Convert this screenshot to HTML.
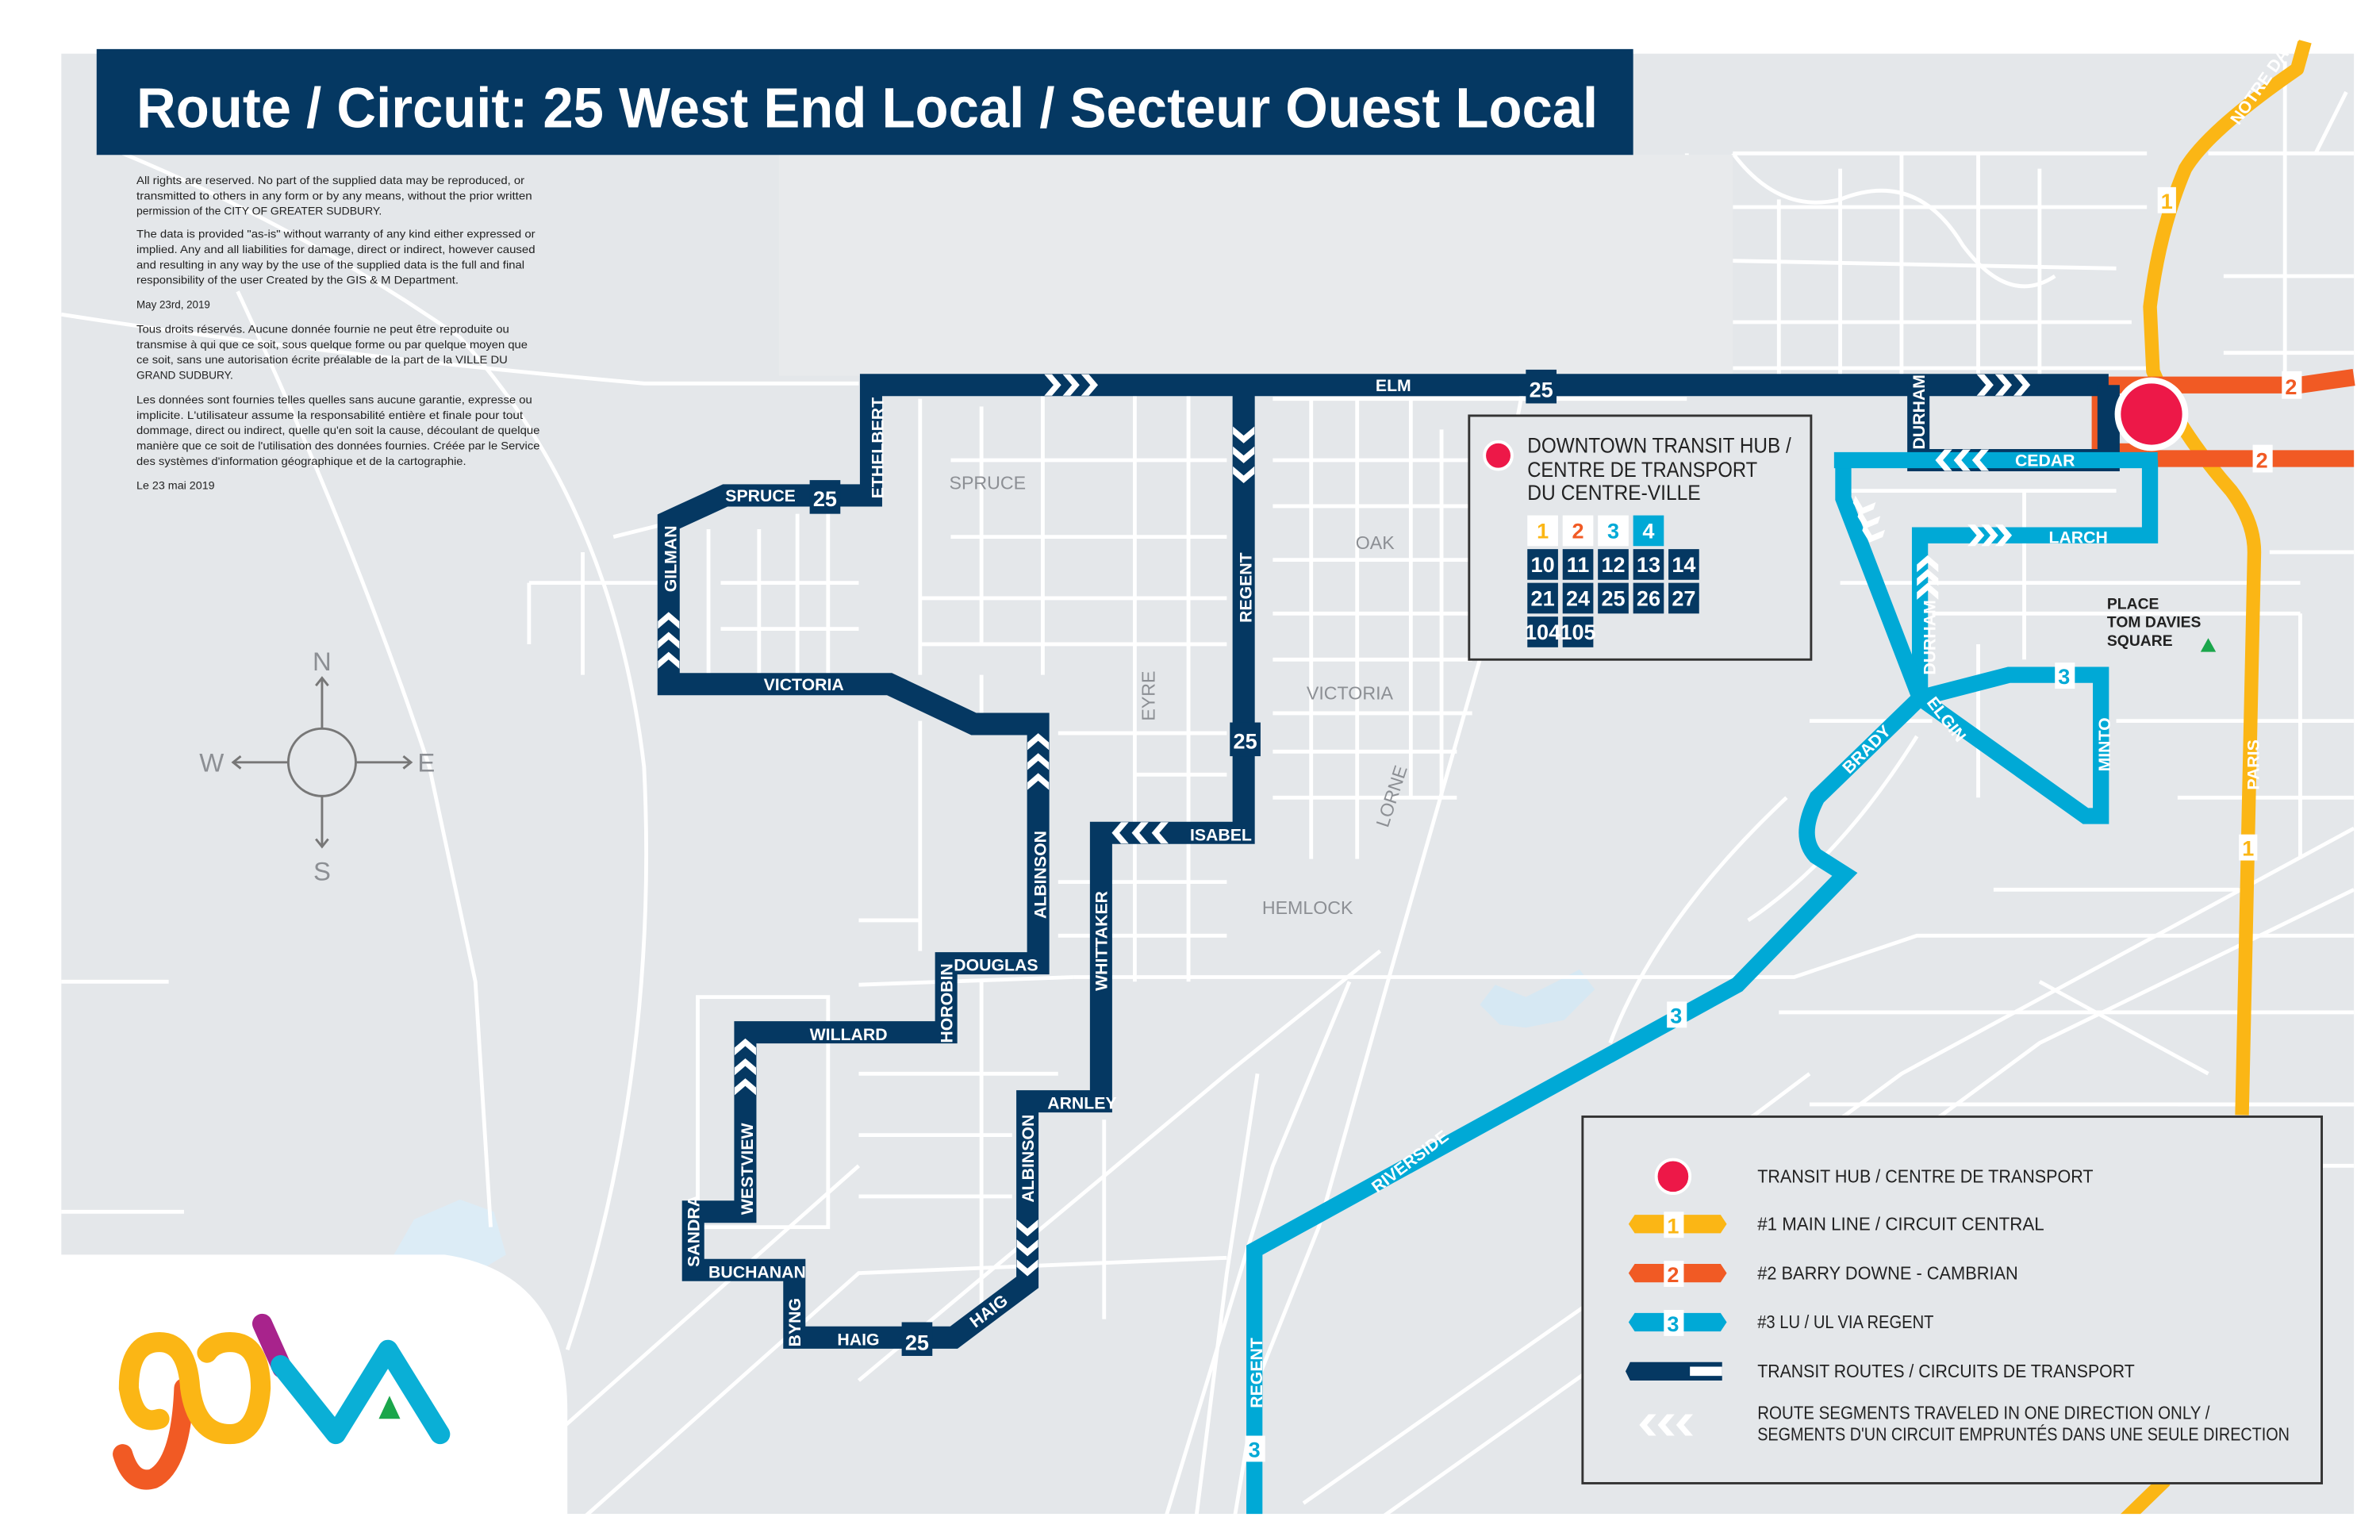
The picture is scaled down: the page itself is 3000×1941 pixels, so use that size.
<!DOCTYPE html>
<html><head><meta charset="utf-8"><style>
html,body{margin:0;padding:0;background:#fff;}
svg{display:block;}
.rl{font-family:"Liberation Sans Narrow","Liberation Sans",sans-serif;font-weight:bold;fill:#fff;font-size:11px;}
.gl{font-family:"Liberation Sans Narrow","Liberation Sans",sans-serif;fill:#8c8f94;font-size:12px;}
.dk{font-family:"Liberation Sans Narrow","Liberation Sans",sans-serif;fill:#222;}
.num{font-family:"Liberation Sans Narrow","Liberation Sans",sans-serif;font-weight:bold;font-size:14px;text-anchor:middle;}
</style></head><body>
<svg width="3000" height="1941" viewBox="0 0 1552 1004" preserveAspectRatio="none" xmlns="http://www.w3.org/2000/svg">
<defs>
<polygon id="ch" points="-5,-7 0,-7 6,0 0,7 -5,7 1,0" fill="#fff"/>
</defs>
<rect width="1552" height="1004" fill="#fff"/>
<rect x="40" y="35" width="1495" height="952" fill="#e4e7ea"/>
<path d="M250,830 L270,795 L300,782 L322,790 L330,818 L310,830 Z" fill="#dcecf6"/>
<path d="M965,655 L975,642 L995,650 L1015,640 L1030,632 L1040,645 L1020,665 L995,670 L978,668 Z" fill="#d6e8f3"/>
<g stroke="#fff" stroke-width="2.5" fill="none">
<path d="M40,205 Q200,230 420,250 L560,250"/>
<path d="M80,100 Q200,150 300,220 Q400,330 420,500 Q430,700 370,880"/>
<path d="M155,190 Q230,350 280,500 L310,640 L320,800"/>
<path d="M345,380 L430,380 M345,380 L345,420 M380,360 L380,440 M400,350 L440,340"/>
<path d="M462,345 L462,450 M495,345 L495,440 M520,335 L520,450 M540,335 L540,440 M470,380 L560,380 M470,410 L560,410"/>
<path d="M600,260 L600,440 M640,265 L640,420 M680,255 L680,440 M620,300 L800,300 M620,350 L800,350 M600,390 L800,390 M600,420 L800,420"/>
<path d="M740,255 L740,640 M775,255 L775,640 M690,478 L800,478 M740,505 L800,505 M690,575 L800,575 M690,610 L800,610"/>
<path d="M830,260 L1100,260 M830,300 L960,300 M830,330 L960,330 M830,365 L960,365 M830,400 L960,400 M830,430 L960,430 M830,465 L960,465 M830,490 L950,490 M830,520 L950,520"/>
<path d="M855,260 L855,560 M885,260 L885,560 M920,260 L920,520 M940,280 L940,520"/>
<path d="M965,430 L905,640 L860,800 L820,900 L805,990"/>
<path d="M1020,110 L960,430"/>
<path d="M700,637 L1170,637 L1250,610 L1535,610"/>
<path d="M560,642 L700,637 M560,700 L690,700 M560,740 L660,740 M560,780 L660,780 M560,600 L600,600"/>
<path d="M640,440 L640,470 M600,470 L600,620 M640,640 L640,860 M720,730 L720,860"/>
<path d="M455,650 L455,800 L540,800 L540,650 Z"/>
<path d="M40,790 L120,790 M40,640 L110,640"/>
<path d="M380,990 L560,830 L800,820 M300,990 L560,760 M560,900 L800,700 L900,620"/>
<path d="M820,700 L800,830 L780,990 M760,990 L830,760 L880,640"/>
<path d="M850,980 L1050,840 L1240,700 L1535,540 M900,990 L1140,820 L1330,680 L1535,580"/>
<path d="M1100,760 L1180,700 M1050,900 L1120,960 M1160,660 L1535,660 M1180,720 L1535,720 M1200,760 L1535,760"/>
<path d="M1130,100 L1400,100 M1130,135 L1400,135 M1130,170 L1380,175 M1130,210 L1390,210 M1130,240 L1400,240"/>
<path d="M1160,130 L1160,250 M1200,110 L1200,250 M1240,100 L1240,250 M1290,100 L1290,250 M1330,110 L1330,250"/>
<path d="M1130,100 Q1160,140 1200,130 Q1250,110 1280,160 Q1310,200 1340,180"/>
<path d="M1440,100 L1535,100 M1450,180 L1535,180 M1450,230 L1535,230 M1490,40 L1490,250 M1510,100 L1530,60"/>
<path d="M1200,320 L1380,320 M1200,380 L1500,380 M1260,400 L1500,400 M1290,420 L1290,520 M1320,320 L1320,430 M1180,470 L1260,470"/>
<path d="M1380,470 L1535,470 M1420,520 L1535,520 M1480,360 L1535,360 M1500,400 L1500,560"/>
<path d="M1165,520 Q1080,600 1050,680 M1250,480 Q1200,560 1140,600"/>
<path d="M1420,720 L1535,720 M1300,580 L1460,580 M1330,640 L1440,700"/>
<path d="M1100,250 L1100,100 M1060,240 L1060,110"/>
<path d="M40,870 L80,870"/>
</g>
<rect x="508" y="101" width="622" height="144" fill="#e8eaec"/>
<rect x="63" y="32" width="1002" height="69" fill="#053862"/>
<text x="89" y="83" font-family="Liberation Sans Narrow, Liberation Sans, sans-serif" font-weight="bold" font-size="37" fill="#fff" textLength="953" lengthAdjust="spacingAndGlyphs">Route / Circuit: 25 West End Local / Secteur Ouest Local</text>
<g class="dk" font-size="7">
<text x="89" y="120" textLength="253" lengthAdjust="spacingAndGlyphs">All rights are reserved. No part of the supplied data may be reproduced, or</text>
<text x="89" y="130" textLength="258" lengthAdjust="spacingAndGlyphs">transmitted to others in any form or by any means, without the prior written</text>
<text x="89" y="140" textLength="160" lengthAdjust="spacingAndGlyphs">permission of the CITY OF GREATER SUDBURY.</text>
<text x="89" y="155" textLength="260" lengthAdjust="spacingAndGlyphs">The data is provided "as-is" without warranty of any kind either expressed or</text>
<text x="89" y="165" textLength="260" lengthAdjust="spacingAndGlyphs">implied. Any and all liabilities for damage, direct or indirect, however caused</text>
<text x="89" y="175" textLength="253" lengthAdjust="spacingAndGlyphs">and resulting in any way by the use of the supplied data is the full and final</text>
<text x="89" y="185" textLength="210" lengthAdjust="spacingAndGlyphs">responsibility of the user Created by the GIS &amp; M Department.</text>
<text x="89" y="201" textLength="48" lengthAdjust="spacingAndGlyphs">May 23rd, 2019</text>
<text x="89" y="217" textLength="243" lengthAdjust="spacingAndGlyphs">Tous droits réservés. Aucune donnée fournie ne peut être reproduite ou</text>
<text x="89" y="227" textLength="255" lengthAdjust="spacingAndGlyphs">transmise à qui que ce soit, sous quelque forme ou par quelque moyen que</text>
<text x="89" y="237" textLength="242" lengthAdjust="spacingAndGlyphs">ce soit, sans une autorisation écrite préalable de la part de la VILLE DU</text>
<text x="89" y="247" textLength="63" lengthAdjust="spacingAndGlyphs">GRAND SUDBURY.</text>
<text x="89" y="263" textLength="258" lengthAdjust="spacingAndGlyphs">Les données sont fournies telles quelles sans aucune garantie, expresse ou</text>
<text x="89" y="273" textLength="252" lengthAdjust="spacingAndGlyphs">implicite. L'utilisateur assume la responsabilité entière et finale pour tout</text>
<text x="89" y="283" textLength="263" lengthAdjust="spacingAndGlyphs">dommage, direct ou indirect, quelle qu'en soit la cause, découlant de quelque</text>
<text x="89" y="293" textLength="263" lengthAdjust="spacingAndGlyphs">manière que ce soit de l'utilisation des données fournies. Créée par le Service</text>
<text x="89" y="303" textLength="215" lengthAdjust="spacingAndGlyphs">des systèmes d'information géographique et de la cartographie.</text>
<text x="89" y="319" textLength="51" lengthAdjust="spacingAndGlyphs">Le 23 mai 2019</text>
</g>
<text class="gl" x="619" y="319">SPRUCE</text>
<text class="gl" x="884" y="358">OAK</text>
<text class="gl" x="852" y="456">VICTORIA</text>
<text class="gl" x="823" y="596">HEMLOCK</text>
<text class="gl" transform="translate(753,470) rotate(-90)">EYRE</text>
<text class="gl" transform="translate(905,540) rotate(-72)">LORNE</text>
<g stroke="#777" stroke-width="1.5" fill="none">
<circle cx="210" cy="497" r="22"/>
<path d="M210,475 L210,442 M206,447 L210,442 L214,447"/>
<path d="M210,519 L210,552 M206,547 L210,552 L214,547"/>
<path d="M188,497 L152,497 M157,493 L152,497 L157,501"/>
<path d="M232,497 L268,497 M263,493 L268,497 L263,501"/>
</g>
<g font-family="Liberation Sans, sans-serif" font-size="17" fill="#8c8f94" text-anchor="middle">
<text x="210" y="437">N</text><text x="210" y="574">S</text><text x="138" y="503">W</text><text x="278" y="503">E</text>
</g>
<g stroke="#fbb615" stroke-width="9" fill="none" stroke-linejoin="round">
<path d="M1503,27 L1498,45 Q1440,85 1425,110 Q1408,150 1402,200 L1404,242 Q1420,280 1455,320 Q1470,340 1470,360 L1462,727"/>
<path d="M1412,965 L1378,998"/>
</g>
<text class="rl" x="1460" y="82" font-size="10" transform="rotate(-55 1460 82)">NOTRE DAME</text>
<text class="rl" transform="translate(1473,515) rotate(-90)" font-size="10">PARIS</text>
<rect x="1407" y="122" width="12" height="17" fill="#fff"/><text class="num" x="1413" y="136" fill="#fbb615" font-size="12">1</text>
<rect x="1460" y="544" width="12" height="17" fill="#fff"/><text class="num" x="1466" y="558" fill="#fbb615" font-size="12">1</text>
<path d="M1368,245 L1368,293 L1400,293" stroke="#f15a24" stroke-width="8" fill="none"/>
<path d="M1370,251 L1500,251 L1535,246" stroke="#f15a24" stroke-width="11" fill="none"/>
<path d="M1400,299 L1535,299" stroke="#f15a24" stroke-width="11" fill="none"/>
<rect x="1488" y="242" width="13" height="18" fill="#fff"/><text class="num" x="1494" y="257" fill="#f15a24" font-size="12">2</text>
<rect x="1469" y="290" width="13" height="18" fill="#fff"/><text class="num" x="1475" y="305" fill="#f15a24" font-size="12">2</text>
<!-- blue (non-cedar parts) -->
<g stroke="#00a9d6" stroke-width="10.5" fill="none" stroke-linejoin="miter">
<path d="M1402,300 L1402,349 L1252,349 L1252,455"/>
<path d="M1202,296 L1202,325 L1252,455 L1185,520 Q1172,545 1184,558 L1203,570 L1133,642 L818,815 L818,995"/>
<path d="M1252,455 L1310,440 L1370,440 L1370,532 L1360,532 L1252,455"/>
</g>
<rect x="1340" y="432" width="13" height="17" fill="#fff"/><text class="num" x="1346" y="446" fill="#00a9d6" font-size="12">3</text>
<rect x="1087" y="653" width="13" height="17" fill="#fff"/><text class="num" x="1093" y="667" fill="#00a9d6" font-size="12">3</text>
<rect x="812" y="936" width="13" height="17" fill="#fff"/><text class="num" x="818" y="950" fill="#00a9d6" font-size="12">3</text>
<text class="rl" x="1336" y="354" font-size="11">LARCH</text>
<text class="rl" transform="translate(1262,440) rotate(-90)" font-size="9">DURHAM</text>
<text class="rl" transform="translate(1256,458) rotate(52)" font-size="9">ELGIN</text>
<text class="rl" transform="translate(1206,505) rotate(-45)" font-size="9">BRADY</text>
<text class="rl" transform="translate(1376,503) rotate(-90)" font-size="9">MINTO</text>
<text class="rl" transform="translate(898,778) rotate(-37)" font-size="9">RIVERSIDE</text>
<text class="rl" transform="translate(823,918) rotate(-90)" font-size="9">REGENT</text>
<g transform="translate(1215,330)"><use href="#ch" transform="rotate(108)"/><use href="#ch" transform="translate(3,9) rotate(108)"/><use href="#ch" transform="translate(6,18) rotate(108)"/></g>
<g><use href="#ch" transform="translate(1288,349)"/><use href="#ch" transform="translate(1297,349)"/><use href="#ch" transform="translate(1306,349)"/></g>
<g><use href="#ch" transform="translate(1257,368) rotate(-90)"/><use href="#ch" transform="translate(1257,377) rotate(-90)"/><use href="#ch" transform="translate(1257,386) rotate(-90)"/></g>
<!-- navy -->
<g stroke="#053862" stroke-width="14.5" fill="none" stroke-linejoin="miter">
<path d="M1375,251 L568,251 L568,323 L473,323 L436,340 L436,446 L580,446 L635,472 L677,472 L677,628 L617,628 L617,673 L486,673 L486,790 L452,790 L452,828 L518,828 L518,872 L622,872 L670,836 L670,718 L718,718 L718,543 L811,543 L811,251"/>
<path d="M1251,251 L1251,300 L1375,300 L1375,251"/>
</g>
<!-- blue cedar on top -->
<path d="M1196,300 L1407,300" stroke="#00a9d6" stroke-width="10.5" fill="none"/>
<text class="rl" x="1314" y="304" font-size="11">CEDAR</text>
<g><use href="#ch" transform="translate(686,251)"/><use href="#ch" transform="translate(698,251)"/><use href="#ch" transform="translate(710,251)"/></g>
<g><use href="#ch" transform="translate(1294,251)"/><use href="#ch" transform="translate(1306,251)"/><use href="#ch" transform="translate(1318,251)"/></g>
<g><use href="#ch" transform="translate(811,283) rotate(90)"/><use href="#ch" transform="translate(811,296) rotate(90)"/><use href="#ch" transform="translate(811,309) rotate(90)"/></g>
<g><use href="#ch" transform="translate(436,405) rotate(-90)"/><use href="#ch" transform="translate(436,418) rotate(-90)"/><use href="#ch" transform="translate(436,431) rotate(-90)"/></g>
<g><use href="#ch" transform="translate(677,484) rotate(-90)"/><use href="#ch" transform="translate(677,497) rotate(-90)"/><use href="#ch" transform="translate(677,510) rotate(-90)"/></g>
<g><use href="#ch" transform="translate(731,543) rotate(180)"/><use href="#ch" transform="translate(744,543) rotate(180)"/><use href="#ch" transform="translate(757,543) rotate(180)"/></g>
<g><use href="#ch" transform="translate(486,683) rotate(-90)"/><use href="#ch" transform="translate(486,696) rotate(-90)"/><use href="#ch" transform="translate(486,709) rotate(-90)"/></g>
<g><use href="#ch" transform="translate(670,800) rotate(90)"/><use href="#ch" transform="translate(670,813) rotate(90)"/><use href="#ch" transform="translate(670,826) rotate(90)"/></g>
<g><use href="#ch" transform="translate(1268,300) rotate(180)"/><use href="#ch" transform="translate(1280,300) rotate(180)"/><use href="#ch" transform="translate(1292,300) rotate(180)"/></g>
<text class="rl" x="897" y="255">ELM</text>
<text class="rl" x="473" y="327">SPRUCE</text>
<text class="rl" x="498" y="450">VICTORIA</text>
<text class="rl" x="776" y="548">ISABEL</text>
<text class="rl" x="622" y="633">DOUGLAS</text>
<text class="rl" x="528" y="678">WILLARD</text>
<text class="rl" x="683" y="723" font-size="10">ARNLEY</text>
<text class="rl" x="462" y="833" font-size="10">BUCHANAN</text>
<text class="rl" x="546" y="877" font-size="10">HAIG</text>
<text class="rl" transform="translate(636,866) rotate(-37)" font-size="10">HAIG</text>
<text class="rl" transform="translate(576,325) rotate(-90)" font-size="9">ETHELBERT</text>
<text class="rl" transform="translate(441,386) rotate(-90)" font-size="10">GILMAN</text>
<text class="rl" transform="translate(816,406) rotate(-90)" font-size="10">REGENT</text>
<text class="rl" transform="translate(682,599) rotate(-90)" font-size="10">ALBINSON</text>
<text class="rl" transform="translate(722,646) rotate(-90)" font-size="11">WHITTAKER</text>
<text class="rl" transform="translate(621,680) rotate(-90)" font-size="7">HOROBIN</text>
<text class="rl" transform="translate(491,792) rotate(-90)" font-size="10">WESTVIEW</text>
<text class="rl" transform="translate(456,826) rotate(-90)" font-size="7">SANDRA</text>
<text class="rl" transform="translate(522,878) rotate(-90)" font-size="9">BYNG</text>
<text class="rl" transform="translate(674,784) rotate(-90)" font-size="10">ALBINSON</text>
<text class="rl" transform="translate(1255,293) rotate(-90)" font-size="8">DURHAM</text>
<g>
<rect x="995" y="241" width="20" height="22" fill="#053862"/><text class="num" x="1005" y="259" fill="#fff" font-size="16">25</text>
<rect x="528" y="313" width="20" height="22" fill="#053862"/><text class="num" x="538" y="330" fill="#fff" font-size="16">25</text>
<rect x="802" y="471" width="20" height="22" fill="#053862"/><text class="num" x="812" y="488" fill="#fff" font-size="16">25</text>
<rect x="588" y="862" width="20" height="22" fill="#053862"/><text class="num" x="598" y="880" fill="#fff" font-size="16">25</text>
</g>
<circle cx="1403" cy="270" r="22" fill="#ed1848" stroke="#fff" stroke-width="4"/>
<text class="dk" x="1374" y="397" font-size="10" font-weight="bold">PLACE</text>
<text class="dk" x="1374" y="409" font-size="10" font-weight="bold">TOM DAVIES</text>
<text class="dk" x="1374" y="421" font-size="10" font-weight="bold">SQUARE</text>
<polygon points="1440,416 1445,425 1435,425" fill="#1aa64b"/>
<rect x="958" y="271" width="223" height="159" fill="#e4e7ea" stroke="#333" stroke-width="1.5"/>
<circle cx="977" cy="297" r="9" fill="#ed1848" stroke="#fff" stroke-width="2"/>
<g class="dk" font-size="14">
<text x="996" y="295" textLength="172" lengthAdjust="spacingAndGlyphs">DOWNTOWN TRANSIT HUB /</text>
<text x="996" y="311" textLength="150" lengthAdjust="spacingAndGlyphs">CENTRE DE TRANSPORT</text>
<text x="996" y="326" textLength="113" lengthAdjust="spacingAndGlyphs">DU CENTRE-VILLE</text>
</g>
<g font-size="13">
<rect x="996" y="336" width="20" height="20" fill="#fff"/><text class="num" x="1006" y="351" fill="#fbb615">1</text>
<rect x="1019" y="336" width="20" height="20" fill="#fff"/><text class="num" x="1029" y="351" fill="#f15a24">2</text>
<rect x="1042" y="336" width="20" height="20" fill="#fff"/><text class="num" x="1052" y="351" fill="#00a9d6">3</text>
<rect x="1065" y="336" width="20" height="20" fill="#00a9d6"/><text class="num" x="1075" y="351" fill="#fff">4</text>
<g fill="#053862">
<rect x="996" y="358" width="20" height="20"/><rect x="1019" y="358" width="20" height="20"/><rect x="1042" y="358" width="20" height="20"/><rect x="1065" y="358" width="20" height="20"/><rect x="1088" y="358" width="20" height="20"/>
<rect x="996" y="380" width="20" height="20"/><rect x="1019" y="380" width="20" height="20"/><rect x="1042" y="380" width="20" height="20"/><rect x="1065" y="380" width="20" height="20"/><rect x="1088" y="380" width="20" height="20"/>
<rect x="996" y="402" width="20" height="20"/><rect x="1019" y="402" width="20" height="20"/>
</g>
<g fill="#fff">
<text class="num" x="1006" y="373">10</text><text class="num" x="1029" y="373">11</text><text class="num" x="1052" y="373">12</text><text class="num" x="1075" y="373">13</text><text class="num" x="1098" y="373">14</text>
<text class="num" x="1006" y="395">21</text><text class="num" x="1029" y="395">24</text><text class="num" x="1052" y="395">25</text><text class="num" x="1075" y="395">26</text><text class="num" x="1098" y="395">27</text>
<text class="num" x="1006" y="417" font-size="11">104</text><text class="num" x="1029" y="417" font-size="11">105</text>
</g>
</g>
<rect x="1032" y="728" width="482" height="239" fill="#e4e7ea" stroke="#333" stroke-width="1.5"/>
<circle cx="1091" cy="767" r="11" fill="#ed1848" stroke="#fff" stroke-width="2"/>
<polygon points="1062,798 1066,792 1122,792 1126,798 1122,804 1066,804" fill="#fbb615"/>
<rect x="1085" y="790" width="13" height="17" fill="#fff"/><text class="num" x="1091" y="804" fill="#fbb615" font-size="12">1</text>
<polygon points="1062,830 1066,824 1122,824 1126,830 1122,836 1066,836" fill="#f15a24"/>
<rect x="1085" y="822" width="13" height="17" fill="#fff"/><text class="num" x="1091" y="836" fill="#f15a24" font-size="12">2</text>
<polygon points="1062,862 1066,856 1122,856 1126,862 1122,868 1066,868" fill="#00a9d6"/>
<rect x="1085" y="854" width="13" height="17" fill="#fff"/><text class="num" x="1091" y="868" fill="#00a9d6" font-size="12">3</text>
<polygon points="1060,894 1063,888 1123,888 1123,900 1063,900" fill="#053862"/>
<rect x="1102" y="891" width="21" height="6" fill="#fff"/>
<g transform="translate(1075,929)"><use href="#ch" transform="rotate(180)"/><use href="#ch" transform="translate(12,0) rotate(180)"/><use href="#ch" transform="translate(24,0) rotate(180)"/></g>
<g class="dk" font-size="12">
<text x="1146" y="771" textLength="219" lengthAdjust="spacingAndGlyphs">TRANSIT HUB / CENTRE DE TRANSPORT</text>
<text x="1146" y="802" textLength="187" lengthAdjust="spacingAndGlyphs">#1 MAIN LINE / CIRCUIT CENTRAL</text>
<text x="1146" y="834" textLength="170" lengthAdjust="spacingAndGlyphs">#2 BARRY DOWNE - CAMBRIAN</text>
<text x="1146" y="866" textLength="115" lengthAdjust="spacingAndGlyphs">#3 LU / UL VIA REGENT</text>
<text x="1146" y="898" textLength="246" lengthAdjust="spacingAndGlyphs">TRANSIT ROUTES / CIRCUITS DE TRANSPORT</text>
<text x="1146" y="925" textLength="295" lengthAdjust="spacingAndGlyphs">ROUTE SEGMENTS TRAVELED IN ONE DIRECTION ONLY /</text>
<text x="1146" y="939" textLength="347" lengthAdjust="spacingAndGlyphs">SEGMENTS D'UN CIRCUIT EMPRUNTÉS DANS UNE SEULE DIRECTION</text>
</g>
<path d="M40,818 L290,818 Q370,830 370,920 L370,1004 L0,1004 L0,818 Z" fill="#fff"/>
<rect x="0" y="987" width="1552" height="17" fill="#fff"/>
<g fill="none" stroke-linecap="round" stroke-width="13">
<path d="M120,905 Q118,955 100,964 Q86,968 80,948" stroke="#f15a24"/>
<path d="M171,863 L184,892" stroke="#a8238c"/>
<path d="M104,925 Q88,930 84,905 Q84,875 104,875 Q122,875 124,905 Q128,935 150,935 Q168,935 170,905 Q170,875 150,875 Q140,875 135,882" stroke="#fbb615"/>
<path d="M183,890 L219,935 L253,880 L287,935" stroke="#0aafd6" stroke-linejoin="round"/>
</g>
<polygon points="254,910 261,925 247,925" fill="#1aa64b"/>
</svg>
</body></html>
